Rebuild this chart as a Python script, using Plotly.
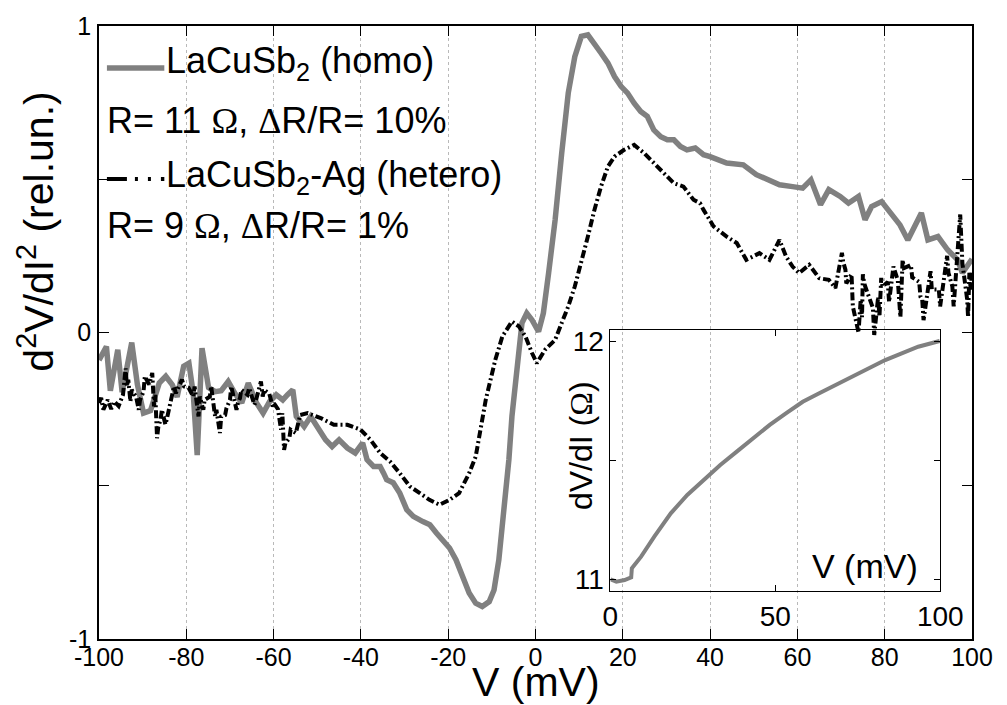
import plotly.graph_objects as go

# ---------------- data ----------------
homo_v = [-100, -98.3, -97.4, -95.7, -94.7, -92.5, -91.2, -89.8, -88.2, -86.2, -84.7, -83.2, -82.1, -80.6,
          -79.4, -78.4, -77.5, -76.4, -74.9, -73.4, -72, -70.4, -68.8, -67.3, -65.8, -63.9, -62.4, -60.9,
          -59.4, -57.9, -56.8, -55.6, -54.8, -53, -51.5, -49.6, -48.1, -46.6, -45, -43.1, -41.3, -39.6,
          -38.6, -37.1, -35.6, -34.8, -34.1, -32.6, -31.1, -29.5, -28, -25.8, -24.2, -22.7, -21.2, -19.7,
          -18.2, -16.7, -15.2, -13.7, -12.2, -10.6, -9.5, -8.4, -7.3, -6.1, -5.4, -4.6, -3.8, -3.1, -2,
          -0.8, 0.7, 1.8, 3, 4.5, 6, 7.5, 9, 10.5, 12, 13.5, 15, 16.6, 18.1, 19.6, 21.1, 22.6, 24.1, 25.6,
          27.1, 28.7, 30.2, 31.7, 33.2, 34.7, 36.6, 38.5, 40, 43.8, 47.6, 50.6, 53.6, 55.9, 58.9, 61.2,
          63.1, 65.3, 67.2, 69.8, 71.7, 74, 75.5, 77, 79.3, 81.5, 83.5, 85.3, 86.9, 88.4, 89.9, 92.2,
          94.4, 96.7, 97.8, 99.3, 100]
homo_y = [-0.09, -0.046, -0.19, -0.056, -0.195, -0.033, -0.17, -0.263, -0.255, -0.165, -0.143, -0.171, -0.21,
          -0.11, -0.1, -0.2, -0.40, -0.051, -0.18, -0.193, -0.19, -0.16, -0.2, -0.23, -0.165, -0.23, -0.263,
          -0.225, -0.203, -0.22, -0.203, -0.187, -0.274, -0.307, -0.274, -0.317, -0.35, -0.372, -0.35, -0.377,
          -0.393, -0.36, -0.415, -0.437, -0.437, -0.459, -0.48, -0.49, -0.524, -0.578, -0.6, -0.617, -0.627,
          -0.654, -0.682, -0.703, -0.742, -0.796, -0.85, -0.883, -0.894, -0.878, -0.84, -0.742, -0.589,
          -0.415, -0.274, -0.154, -0.035, 0.031, 0.063, 0.041, 0.003, 0.063, 0.194, 0.368, 0.585, 0.781,
          0.9, 0.966, 0.971, 0.944, 0.912, 0.879, 0.835, 0.803, 0.781, 0.748, 0.721, 0.705, 0.661, 0.639,
          0.629, 0.629, 0.607, 0.596, 0.602, 0.58, 0.574, 0.553, 0.547, 0.515, 0.498, 0.482, 0.476, 0.471,
          0.498, 0.417, 0.466, 0.444, 0.422, 0.444, 0.368, 0.411, 0.427, 0.39, 0.351, 0.302, 0.346, 0.39,
          0.302, 0.313, 0.27, 0.237, 0.194, 0.226, 0.24]

hetero_v = [-100, -99.5, -99, -98, -97.2, -96.5, -95.5, -94.5, -93.9, -93.6, -93.3, -92.8, -92.5, -91.5,
            -90.9, -90.6, -89.8, -89.5, -88.5, -87.8, -87.4, -87.1, -86.7, -86.4, -85.9, -85.6, -84.8, -84.5,
            -83.5, -82.8, -82.4, -81.0, -80.5, -79.5, -78.4, -78.1, -77.2, -76.9, -76.1, -75.8, -74.6, -74.3,
            -73.4, -73.1, -72.3, -72.0, -71.1, -70.8, -70.0, -69.7, -68.5, -68.2, -67.7, -67.4, -66, -65.6,
            -64.4, -64.1, -63.2, -62.9, -62.5, -62.2, -61, -60.2, -59.9, -59, -58.3, -58.0, -57.6, -57.3,
            -56.4, -56.1, -54.9, -54.6, -54.2, -53.9, -52.2, -49.2, -46.2, -43.1, -40.1, -37.8, -35.6, -33.3,
            -31.1, -28.8, -26.5, -24.3, -22, -19.7, -17.5, -15.2, -13.7, -12.9, -12.2, -11.4, -10.3, -9.2,
            -7.6, -5.4, -3.8, -2.3, -0.8, 0.3, 2.2, 4.5, 6, 7.5, 9, 10.5, 12, 13.5, 15, 16.6, 18.1, 20.3,
            22.6, 24.9, 27.1, 29.4, 31.7, 33.9, 36.2, 37.7, 38.5, 40.8, 43.8, 46.1, 48.3, 51.3, 53.6, 55.9,
            57.4, 58.9, 60.4, 62.7, 65, 67.2, 68.7, 70.2, 70.5, 71, 71.2, 72.4, 72.7, 74, 74.5, 74.8, 75.0,
            75.3, 77.3, 77.6, 78.5, 78.8, 79.2, 79.5, 80.7, 81, 82, 83, 83.2, 83.4, 83.6, 84.1, 84.4, 86,
            86.3, 87.9, 88.2, 88.6, 88.9, 90.5, 90.8, 92.4, 92.7, 94.3, 94.6, 95.5, 95.8, 97.3, 97.5, 97.6,
            97.8, 98.9, 99.1, 99.4, 99.7, 100]
hetero_y = [-0.23, -0.213, -0.252, -0.22, -0.25, -0.225, -0.24, -0.203, -0.117, -0.176, -0.154, -0.225, -0.187,
            -0.21, -0.252, -0.22, -0.193, -0.143, -0.17, -0.132, -0.241, -0.203, -0.345, -0.307, -0.285,
            -0.252, -0.3, -0.285, -0.22, -0.176, -0.198, -0.154, -0.176, -0.18, -0.209, -0.176, -0.274,
            -0.209, -0.252, -0.22, -0.209, -0.176, -0.274, -0.252, -0.328, -0.274, -0.269, -0.247, -0.22,
            -0.176, -0.252, -0.231, -0.214, -0.187, -0.203, -0.181, -0.236, -0.225, -0.176, -0.16, -0.209,
            -0.187, -0.2, -0.241, -0.231, -0.25, -0.317, -0.263, -0.383, -0.361, -0.345, -0.317, -0.328,
            -0.307, -0.285, -0.269, -0.263, -0.279, -0.301, -0.301, -0.317, -0.35, -0.393, -0.421, -0.459,
            -0.502, -0.524, -0.546, -0.562, -0.546, -0.524, -0.459, -0.405, -0.339, -0.285, -0.22, -0.154,
            -0.089, -0.013, 0.036, 0.02, -0.013, -0.067, -0.1, -0.056, -0.024, 0.031, 0.085, 0.15, 0.226,
            0.313, 0.4, 0.476, 0.542, 0.574, 0.596, 0.612, 0.585, 0.553, 0.52, 0.487, 0.476, 0.433, 0.422,
            0.4, 0.346, 0.313, 0.292, 0.237, 0.259, 0.237, 0.302, 0.248, 0.215, 0.194, 0.221, 0.177, 0.172,
            0.145, 0.26, 0.23, 0.205, 0.16, 0.19, 0.085, 0.0, 0.107, 0.05, 0.19, 0.16, 0.08, -0.008, 0.116,
            0.052, 0.178, 0.15, 0.165, 0.1, 0.215, 0.17, 0.13, 0.09, 0.05, 0.237, 0.21, 0.22, 0.18, 0.165,
            0.116, 0.107, 0.04, 0.2, 0.14, 0.14, 0.085, 0.25, 0.195, 0.15, 0.085, 0.385, 0.336, 0.30, 0.226,
            0.107, 0.05, 0.195, 0.14, 0.2]

inset_v = [0, 1.8, 4.3, 6.3, 6.5, 9.3, 13.3, 18.3, 23.3, 28.3, 33.3, 38.3, 43.3, 48.3, 53.3, 58.3, 63.3,
           68.3, 73.3, 78.3, 83.3, 88.3, 93.3, 99.8]
inset_r = [11.0, 10.99, 10.997, 11.008, 11.046, 11.095, 11.179, 11.277, 11.354, 11.417, 11.48, 11.536,
           11.592, 11.648, 11.697, 11.745, 11.781, 11.815, 11.85, 11.885, 11.92, 11.948, 11.976, 12.0]

x_ticks = [-100, -80, -60, -40, -20, 0, 20, 40, 60, 80, 100]
x_ticktext = ["-100", "-80", "-60", "-40", "-20", "0", "20", "40", "60", "80", "100"]
y_ticks = [-1, -0.5, 0, 0.5, 1]
y_ticktext = ["-1", "", "0", "", "1"]
inset_xticks = [0, 50, 100]
inset_yticks = [11, 11.5, 12]
inset_yticktext = ["11", "", "12"]

GRAY = "rgb(128,128,128)"
FONT = "Liberation Sans, Arial, sans-serif"
SERIF = "Liberation Serif, Times New Roman, serif"

fig = go.Figure()
fig.add_trace(go.Scatter(x=homo_v, y=homo_y, mode="lines", line=dict(color=GRAY, width=5.5),
                         showlegend=False, xaxis="x", yaxis="y"))
fig.add_trace(go.Scatter(x=hetero_v, y=hetero_y, mode="lines",
                         line=dict(color="black", width=4, dash="8px,3px,2px,3px"),
                         showlegend=False, xaxis="x", yaxis="y"))
fig.add_trace(go.Scatter(x=inset_v, y=inset_r, mode="lines", line=dict(color=GRAY, width=4),
                         showlegend=False, xaxis="x2", yaxis="y2"))

fig.update_layout(
    width=1007, height=705,
    margin=dict(l=99, r=26, t=26, b=66),
    paper_bgcolor="white", plot_bgcolor="rgba(0,0,0,0)",
    font=dict(family=FONT, color="black"),
    xaxis=dict(range=[-100, 100], domain=[0, 1], tickvals=x_ticks, ticktext=x_ticktext,
               ticks="inside", ticklen=10, tickcolor="black", tickwidth=1,
               showline=True, linecolor="black", linewidth=1.5, mirror="ticks",
               showgrid=True, gridcolor="rgb(185,185,185)", griddash="dot", gridwidth=1,
               zeroline=False, tickfont=dict(size=25, family=FONT), ticklabelstandoff=-5),
    yaxis=dict(range=[-1, 1], domain=[0, 1], tickvals=y_ticks, ticktext=y_ticktext,
               ticks="inside", ticklen=10, tickcolor="black", tickwidth=1,
               showline=True, linecolor="black", linewidth=1.5, mirror="ticks",
               showgrid=False, zeroline=False, tickfont=dict(size=25, family=FONT),
               ticklabelstandoff=1),
    xaxis2=dict(range=[0, 100], domain=[0.5858, 0.9637], anchor="y2", tickvals=inset_xticks,
                ticks="inside", ticklen=6, tickcolor="black", showline=True, linecolor="black",
                linewidth=1, mirror="ticks", showgrid=False, zeroline=False,
                tickfont=dict(size=28, family=FONT), ticklabelstandoff=0),
    yaxis2=dict(range=[10.951, 12.046], domain=[0.0783, 0.504], anchor="x2", tickvals=inset_yticks,
                ticktext=inset_yticktext, ticks="inside", ticklen=6, tickcolor="black",
                showline=True, linecolor="black", linewidth=1, mirror="ticks", showgrid=False,
                zeroline=False, tickfont=dict(size=28, family=FONT), ticklabelstandoff=0),
)

def px_x(p):
    return (p - 99) / 882.0

def px_y(p):
    return (639 - p) / 613.0

annots = [
    dict(text="d<sup>2</sup>V/dI<sup>2</sup> (rel.un.)", x=px_x(35), y=px_y(232), textangle=-90,
         font=dict(size=41), xanchor="center", yanchor="middle"),
    dict(text="V (mV)", x=px_x(540), y=px_y(682), font=dict(size=41), xanchor="center", yanchor="middle"),
    dict(text="LaCuSb<sub>2</sub> (homo)", x=px_x(165), y=px_y(63), font=dict(size=36),
         xanchor="left", yanchor="middle"),
    dict(text="R= 11 <span style='font-family:%s'>Ω</span>, <span style='font-family:%s'>Δ</span>R/R= 10%%" % (SERIF, SERIF),
         x=px_x(105), y=px_y(121), font=dict(size=36), xanchor="left", yanchor="middle"),
    dict(text="LaCuSb<sub>2</sub>-Ag (hetero)", x=px_x(165), y=px_y(177), font=dict(size=36),
         xanchor="left", yanchor="middle"),
    dict(text="R= 9 <span style='font-family:%s'>Ω</span>, <span style='font-family:%s'>Δ</span>R/R= 1%%" % (SERIF, SERIF),
         x=px_x(105), y=px_y(225), font=dict(size=36), xanchor="left", yanchor="middle"),
    dict(text="dV/dI (<span style='font-family:%s'>Ω</span>)" % SERIF, x=px_x(586), y=px_y(446), textangle=-90,
         font=dict(size=32), xanchor="center", yanchor="middle"),
    dict(text="V (mV)", x=px_x(873), y=px_y(566), font=dict(size=34), xanchor="center", yanchor="middle"),
]
for a in annots:
    a.update(xref="paper", yref="paper", showarrow=False)
    fig.add_annotation(**a)

# legend sample lines
fig.add_shape(type="line", xref="paper", yref="paper", x0=px_x(107), x1=px_x(165), y0=px_y(68), y1=px_y(68),
              line=dict(color=GRAY, width=5.5))
fig.add_shape(type="line", xref="paper", yref="paper", x0=px_x(107), x1=px_x(165), y0=px_y(179), y1=px_y(179),
              line=dict(color="black", width=4, dash="20px,8px,3px,10px,3px,10px"))

fig.write_html("out.html")
